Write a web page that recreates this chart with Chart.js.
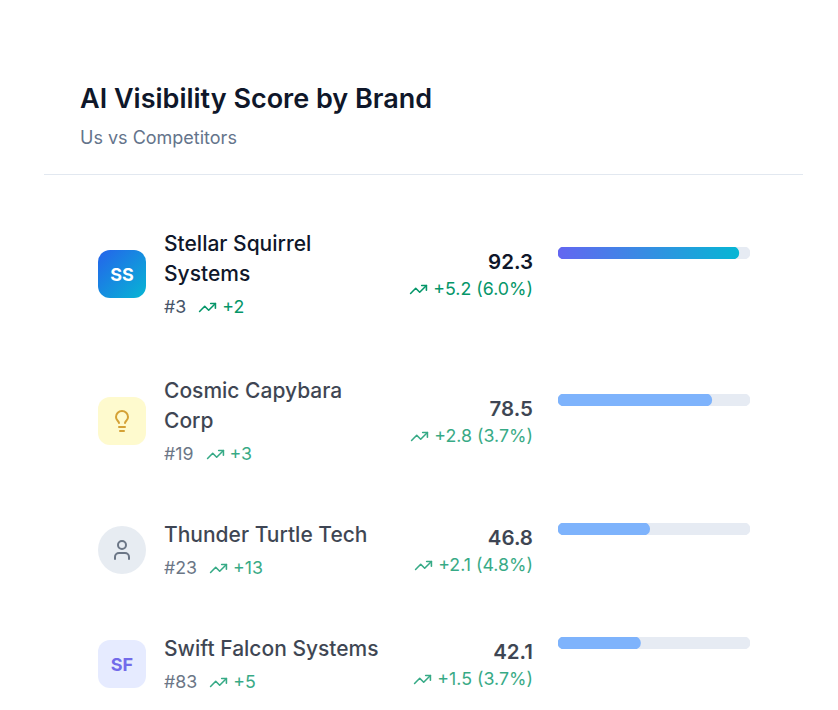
<!DOCTYPE html>
<html>
<head>
<meta charset="utf-8">
<title>AI Visibility Score by Brand</title>
<script src="https://cdn.jsdelivr.net/npm/chart.js@4"></script>
<style>
  html, body { margin: 0; padding: 0; background: #fff; }
  body { width: 838px; height: 710px; overflow: hidden; position: relative; font-family: Inter, sans-serif; color: #0f172a; }
  h1 { position: absolute; left: 80px; top: 82px; margin: 0; font-size: 27px; line-height: 34px; font-weight: 600; }
  .sub { position: absolute; left: 80px; top: 126px; font-size: 18px; line-height: 24px; color: #64748b; }
  .divider { position: absolute; left: 44px; top: 174px; width: 759px; height: 1px; background: #e2e8f0; }
  .row { position: absolute; left: 98px; width: 652px; display: flex; align-items: center; }
  .row1 { top: 229px; }
  .row2 { top: 376px; }
  .row3 { top: 520px; }
  .row4 { top: 634px; }
  .faded .fade { opacity: 0.8; }
  .icon { width: 48px; height: 48px; flex: none; margin-right: 18px; border-radius: 12px; display: flex; align-items: center; justify-content: center; font-size: 18px; font-weight: 700; }
  .names { width: 220px; flex: none; }
  .name { font-size: 21px; line-height: 30px; font-weight: 500; }
  .rank { font-size: 17.8px; line-height: 24px; margin-top: 6px; color: #475569; display: flex; align-items: center; }
  .rank .up { margin-left: 12px; color: #059669; display: flex; align-items: center; }
  .up svg { margin-right: 5px; }
  .vals { width: 149px; flex: none; text-align: right; height: 60px; }
  .score { font-size: 20.5px; line-height: 26px; font-weight: 600; margin-top: 5px; }
  .delta { font-size: 17.8px; line-height: 24px; color: #059669; display: flex; align-items: center; justify-content: flex-end; margin-top: 2px; }
  .delta svg { margin-right: 5px; }
  .barcol { width: 192px; height: 57px; padding-top: 3px; flex: none; margin-left: 25px; }
  .barcol canvas { display: block; }
</style>
</head>
<body>
<h1>AI Visibility Score by Brand</h1>
<div class="sub">Us vs Competitors</div>
<div class="divider"></div>
<div id="list"></div>

<script>
var brands = ["Stellar Squirrel Systems", "Cosmic Capybara Corp", "Thunder Turtle Tech", "Swift Falcon Systems"];
var ranks = [3, 19, 23, 83];
var rankChanges = [2, 3, 13, 5];
var scores = [92.3, 78.5, 46.8, 42.1];
var scoreChanges = [5.2, 2.8, 2.1, 1.5];
var changePercents = [6.0, 3.7, 4.8, 3.7];
var scoreMax = 98;

var trendIcon = '<svg width="19" height="19" viewBox="0 0 24 24" fill="none" stroke="currentColor" stroke-width="2" stroke-linecap="round" stroke-linejoin="round"><polyline points="22 7 13.5 15.5 8.5 10.5 2 17"/><polyline points="16 7 22 7 22 13"/></svg>';

var icons = [
  '<div class="icon" style="background:linear-gradient(135deg,#2563eb,#06b6d4);color:#fff">SS</div>',
  '<div class="icon" style="background:#fef9c3"><svg width="24" height="24" viewBox="0 0 24 24" fill="none" stroke="#ca8a04" stroke-width="2" stroke-linecap="round" stroke-linejoin="round"><path d="M15 14c.2-1 .7-1.7 1.5-2.5 1-.9 1.5-2.2 1.5-3.5A6 6 0 0 0 6 8c0 1 .2 2.2 1.5 3.5.7.7 1.3 1.5 1.5 2.5"/><path d="M9 18h6"/><path d="M10 22h4"/></svg></div>',
  '<div class="icon" style="background:#e2e8f0;border-radius:50%"><svg width="24" height="24" viewBox="0 0 24 24" fill="none" stroke="#475569" stroke-width="2" stroke-linecap="round" stroke-linejoin="round"><path d="M19 21v-2a4 4 0 0 0-4-4H9a4 4 0 0 0-4 4v2"/><circle cx="12" cy="7" r="4"/></svg></div>',
  '<div class="icon" style="background:#e0e7ff;color:#4f46e5">SF</div>'
];

//Build one row of text for each brand
var list = document.getElementById("list");
brands.forEach(function(brand, i) {
  var row = document.createElement("div");
  row.className = "row row" + (i + 1) + (i > 0 ? " faded" : "");
  row.innerHTML =
    '<div class="fade">' + icons[i] + '</div>' +
    '<div class="names fade">' +
      '<div class="name">' + brand + '</div>' +
      '<div class="rank">#' + ranks[i] + '<span class="up">' + trendIcon + '+' + rankChanges[i] + '</span></div>' +
    '</div>' +
    '<div class="vals fade">' +
      '<div class="score">' + scores[i].toFixed(1) + '</div>' +
      '<div class="delta">' + trendIcon + '+' + scoreChanges[i].toFixed(1) + ' (' + changePercents[i].toFixed(1) + '%)</div>' +
    '</div>' +
    '<div class="barcol"><canvas id="bar' + i + '" width="192" height="12"></canvas></div>';
  list.appendChild(row);
});

//Gradient for the leading brand, the others use a flat blue
function barColor(i) {
  return function(context) {
    if (i > 0) return "#7eb3fc";
    var chart = context.chart;
    var area = chart.chartArea;
    if (!area) return "#3b82f6";
    var gradient = chart.ctx.createLinearGradient(area.left, 0, chart.scales.x.getPixelForValue(scores[i]), 0);
    gradient.addColorStop(0, "#6366f1");
    gradient.addColorStop(1, "#06b6d4");
    return gradient;
  };
}

//Create a small horizontal bar chart per brand
brands.forEach(function(brand, i) {
  new Chart(document.getElementById("bar" + i), {
    type: "bar",
    data: {
      labels: [brand],
      datasets: [
        { label: "Score", data: [scores[i]], backgroundColor: barColor(i), order: 1 },
        { label: "Track", data: [scoreMax], backgroundColor: "#e6ebf3", order: 2 }
      ]
    },
    options: {
      indexAxis: "y",
      responsive: false,
      animation: false,
      layout: { padding: 0 },
      datasets: {
        bar: { grouped: false, barPercentage: 1, categoryPercentage: 1, borderRadius: 6, borderSkipped: false }
      },
      scales: {
        x: { display: false, min: 0, max: scoreMax },
        y: { display: false }
      },
      plugins: {
        legend: { display: false },
        title: { display: false },
        tooltip: { enabled: false }
      }
    }
  });
});
</script>
</body>
</html>
